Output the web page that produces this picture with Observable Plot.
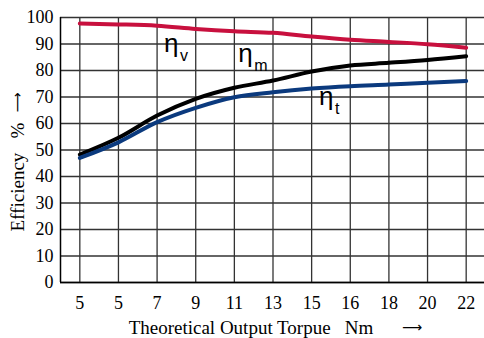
<!DOCTYPE html>
<html><head><meta charset="utf-8">
<script src="https://cdn.jsdelivr.net/npm/d3@7"></script>
<script src="https://cdn.jsdelivr.net/npm/@observablehq/plot@0.6"></script>
<style>body{margin:0;background:#fff}</style>
</head><body><div id="chart"></div>
<script>
const xLabels = ["5","5","7","9","11","13","15","16","18","20","22"];
const etaV = [97.7, 97.4, 96.9, 95.7, 94.8, 94.2, 92.8, 91.6, 90.8, 89.9, 88.6];
const etaM = [48.3, 54.6, 63.0, 69.3, 73.5, 76.2, 79.6, 81.9, 82.9, 84.0, 85.4];
const etaT = [47.0, 52.9, 60.5, 65.9, 69.9, 71.8, 73.2, 74.1, 74.7, 75.4, 76.0];
const seriesNames = ["v", "m", "t"];
const seriesColors = ["#c8103e", "#000000", "#0b3a7e"];
const labelX = [2.18, 4.1, 6.19];
const labelY = [90.2, 86.4, 70.2];
const xTitle = "Theoretical Output Torpue\u00a0\u00a0\u00a0Nm";
const yTitle = "Efficiency\u00a0\u00a0\u00a0%";
const arrow = "\u27f6";

const rows = [];
[etaV, etaM, etaT].forEach((arr, s) => arr.forEach((v, i) => rows.push({i, v, s: seriesNames[s]})));
const labels = seriesNames.map((s, k) => ({x: labelX[k], y: labelY[k], s}));
const serif = "'Liberation Serif', 'Times New Roman', serif";
const sans = "'Liberation Sans', Arial, sans-serif";
const arrowFont = "'DejaVu Sans', sans-serif";

const plot = Plot.plot({
  width: 484, height: 338,
  marginLeft: 60, marginRight: -1, marginTop: 17, marginBottom: 56,
  style: {fontFamily: serif, fontSize: "18px", color: "#000", background: "#fff"},
  x: {domain: [-0.5, 10.5]},
  y: {domain: [0, 100]},
  color: {domain: seriesNames, range: seriesColors},
  marks: [
    Plot.gridX(d3.range(11), {stroke: "#333", strokeOpacity: 1, strokeWidth: 1.3}),
    Plot.gridY(d3.range(0, 101, 10), {stroke: "#333", strokeOpacity: 1, strokeWidth: 1.3}),
    Plot.axisX(d3.range(11), {tickSize: 0, tickPadding: 14, tickFormat: i => xLabels[i], label: null, fontSize: 18}),
    Plot.axisY(d3.range(0, 101, 10), {tickSize: 0, tickPadding: 7, label: null, fontSize: 18}),
    Plot.ruleX([-0.5], {stroke: "#000", strokeWidth: 1.5}),
    Plot.ruleY([0], {stroke: "#000", strokeWidth: 1.5}),
    Plot.line(rows, {x: "i", y: "v", z: "s", stroke: "s", strokeWidth: 4, curve: "monotone-x"}),
    Plot.text([xTitle], {frameAnchor: "bottom", textAnchor: "middle", lineAnchor: "middle", dy: 45, dx: -22, fontSize: 19, fontFamily: serif, fill: "#000"}),
    Plot.text([arrow], {frameAnchor: "bottom", textAnchor: "middle", lineAnchor: "middle", dy: 45, dx: 139, fontSize: 14, fontFamily: arrowFont, fill: "#000"}),
    Plot.text([yTitle], {frameAnchor: "left", textAnchor: "middle", lineAnchor: "middle", rotate: -90, dx: -43, dy: 27, fontSize: 19, fontFamily: serif, fill: "#000"}),
    Plot.text([arrow], {frameAnchor: "left", textAnchor: "middle", lineAnchor: "middle", rotate: -90, dx: -43, dy: -47.5, fontSize: 14, fontFamily: arrowFont, fill: "#000"}),
    Plot.text(labels, {x: "x", y: "y", text: () => "\u03b7", textAnchor: "start", fontSize: 26, fontFamily: sans, fill: "#000"}),
    Plot.text(labels, {x: "x", y: "y", text: "s", textAnchor: "start", dx: 16, dy: 12.5, fontSize: 16, fontFamily: sans, fill: "#000"})
  ]
});
document.getElementById("chart").append(plot);
</script>
</body></html>
